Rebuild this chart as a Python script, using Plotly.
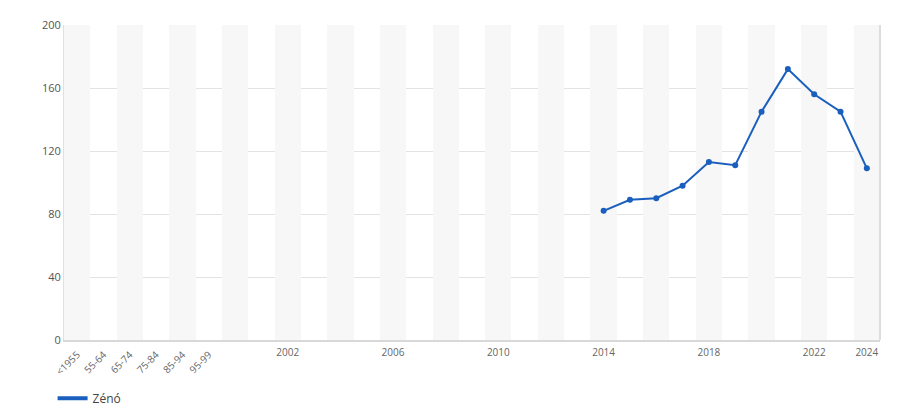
import plotly.graph_objects as go

categories = ["<1955", "55-64", "65-74", "75-84", "85-94", "95-99"] + [str(y) for y in range(2000, 2025)]
series_years = [str(y) for y in range(2014, 2025)]
series_values = [82, 89, 90, 98, 113, 111, 145, 172, 156, 145, 109]
series_name = "Zénó"
rotated_ticks = ["<1955", "55-64", "65-74", "75-84", "85-94", "95-99"]
year_ticks = ["2002", "2006", "2010", "2014", "2018", "2022", "2024"]
y_ticks = [0, 40, 80, 120, 160, 200]

band_x = categories[::2]
band_y = [200] * len(band_x)

color = "#1a5fbd"
font = "Open Sans, Noto Sans, sans-serif"
fig = go.Figure()
fig.add_trace(go.Bar(x=band_x, y=band_y, width=1, marker=dict(color="#f7f7f7", line=dict(width=0)),
                     hoverinfo="skip", showlegend=False))
fig.add_trace(go.Scatter(x=series_years, y=series_values, mode="lines+markers", name=series_name,
                         line=dict(color=color, width=2), marker=dict(size=6, color=color),
                         showlegend=False))
# legend entry (line only, thick)
fig.add_trace(go.Scatter(x=[None], y=[None], mode="lines", name=series_name,
                         line=dict(color=color, width=4), showlegend=True, hoverinfo="skip"))
# invisible trace to anchor the second x axis
fig.add_trace(go.Scatter(x=categories, y=[None] * len(categories), xaxis="x2", showlegend=False,
                         hoverinfo="skip", mode="markers"))

common = dict(type="category", categoryorder="array", categoryarray=categories,
              range=[-0.5, len(categories) - 0.5], showgrid=False, zeroline=False, automargin=False)
fig.update_layout(
    width=900, height=420,
    margin=dict(l=56, r=28, t=17, b=88, autoexpand=False),
    paper_bgcolor="white", plot_bgcolor="white",
    font=dict(family=font, size=11, color="#555"),
    bargap=0,
    xaxis=dict(**common, tickmode="array", tickvals=rotated_ticks, ticktext=rotated_ticks, tickangle=-45,
               showline=True, linecolor="#d8d8d8", linewidth=2, mirror=False, ticks="",
               ticklabelstandoff=3, tickfont=dict(size=10, color="#666")),
    xaxis2=dict(**common, overlaying="x", side="bottom", tickmode="array", tickvals=year_ticks,
                ticktext=year_ticks, tickangle=0, showline=False, ticks="", ticklabelstandoff=5,
                tickfont=dict(size=10, color="#666")),
    yaxis=dict(range=[0, 200], tickvals=y_ticks, showgrid=True, gridcolor="#e3e3e3", zeroline=False,
               showline=True, linecolor="#e0e0e0", linewidth=1, ticks="", ticklen=0, automargin=False,
               tickfont=dict(size=11, color="#555")),
    legend=dict(orientation="h", x=-0.014, xanchor="left", y=-0.185, yanchor="middle",
                font=dict(size=12, color="#444"), itemwidth=30),
    showlegend=True,
)
fig.add_shape(type="line", xref="paper", yref="paper", x0=1, x1=1, y0=0, y1=1,
              line=dict(color="#dddddd", width=2))
fig.write_html("out.html")
